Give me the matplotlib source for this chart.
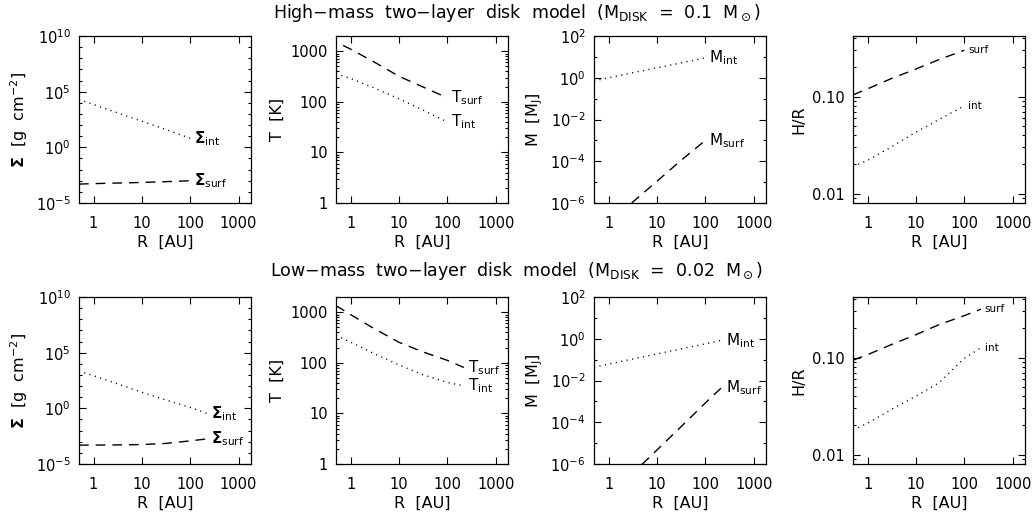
import numpy as np
import matplotlib
matplotlib.use("Agg")
import matplotlib.pyplot as plt
from matplotlib.ticker import LogLocator, FixedLocator, FixedFormatter, NullFormatter

plt.rcParams['font.family'] = ['DejaVu Sans']
plt.rcParams['mathtext.fontset'] = 'dejavusans'
plt.rcParams['font.size'] = 10

# ---- high-mass model (M_disk = 0.1 Msun) ----
R_hi = [0.5, 1, 3, 10, 30, 100]
sig_int_hi = [2.0e4, 7.0e3, 1.35e3, 220, 43, 6.5]
sig_surf_hi = [5.0e-4, 5.5e-4, 6.2e-4, 7.0e-4, 8.2e-4, 1.0e-3]
R_T_hi = [0.7, 1, 3, 10, 30, 100]
T_surf_hi = [1300, 1100, 620, 320, 200, 120]
T_int_hi = [360, 290, 190, 115, 70, 40]
M_int_hi = [0.7, 1.0, 1.7, 3.0, 5.0, 9.0]
M_surf_hi = [2.7e-8, 1.1e-7, 1.0e-6, 1.1e-5, 1.0e-4, 1.0e-3]
HR_surf_hi = [0.104, 0.12, 0.152, 0.192, 0.24, 0.30]
HR_int_hi = [0.019, 0.022, 0.030, 0.043, 0.058, 0.080]

# ---- low-mass model (M_disk = 0.02 Msun) ----
R_lo = [0.5, 1, 3, 10, 30, 100, 220]
sig_int_lo = [2300, 850, 170, 28, 6, 1.2, 0.35]
sig_surf_lo = [5.0e-4, 5.0e-4, 5.2e-4, 5.6e-4, 7.0e-4, 1.2e-3, 1.8e-3]
T_surf_lo = [1350, 900, 480, 255, 167, 112, 81]
T_int_lo = [350, 257, 154, 91, 59, 41, 35]
M_int_lo = [0.043, 0.061, 0.105, 0.187, 0.32, 0.57, 0.85]
M_surf_lo = [5.8e-9, 2.7e-8, 3.2e-7, 4.7e-6, 5.5e-5, 8.4e-4, 4.7e-3]
HR_surf_lo = [0.094, 0.107, 0.135, 0.172, 0.218, 0.27, 0.315]
HR_int_lo = [0.018, 0.021, 0.029, 0.040, 0.055, 0.098, 0.126]

titles = [r'High$-$mass  two$-$layer  disk  model  (M$_{\rm DISK}$  =  0.1  M$_\odot$)',
          r'Low$-$mass  two$-$layer  disk  model  (M$_{\rm DISK}$  =  0.02  M$_\odot$)']

xlim = (0.5, 1800)
dash = (0, (7, 5))
dot = (0, (0.8, 3.2))

fig = plt.figure(figsize=(10.34, 5.18), dpi=100)
col_x = [0.0764, 0.3250, 0.5745, 0.8250]
row_y = [0.6081, 0.1042]
w, h = 0.1663, 0.3224


def style_axis(ax):
    ax.set_xscale('log')
    ax.set_xlim(*xlim)
    ax.xaxis.set_major_locator(FixedLocator([1, 10, 100, 1000]))
    ax.xaxis.set_major_formatter(FixedFormatter(['1', '10', '100', '1000']))
    ax.xaxis.set_minor_locator(LogLocator(base=10, subs=np.arange(2, 10)))
    ax.xaxis.set_minor_formatter(NullFormatter())
    ax.tick_params(which='both', direction='in', top=True, right=True, width=0.8)
    ax.tick_params(which='major', length=5, labelsize=10.5, pad=6)
    ax.tick_params(axis='x', which='major', pad=9)
    ax.tick_params(which='minor', length=2.5)
    for s in ax.spines.values():
        s.set_linewidth(0.9)
    ax.set_xlabel('R  [AU]', fontsize=11.5, labelpad=3)


def label(ax, x, y, txt, size=11):
    ax.text(x[-1] * 1.2, y[-1], txt, fontsize=size, va='center', ha='left')


models = [
    (R_hi, R_T_hi, sig_int_hi, sig_surf_hi, T_surf_hi, T_int_hi, M_int_hi, M_surf_hi, HR_surf_hi, HR_int_hi),
    (R_lo, R_lo, sig_int_lo, sig_surf_lo, T_surf_lo, T_int_lo, M_int_lo, M_surf_lo, HR_surf_lo, HR_int_lo),
]

for row, m in enumerate(models):
    R, RT, si, ss, ts, ti, mi, ms, hs, hi = m
    axs = [fig.add_axes([cx, row_y[row], w, h]) for cx in col_x]

    # surface density
    ax = axs[0]
    style_axis(ax)
    ax.set_yscale('log')
    ax.plot(R, si, color='k', lw=1, linestyle=dot)
    ax.plot(R, ss, color='k', lw=1, linestyle=dash)
    ax.set_ylim(1e-5, 1e10)
    ax.yaxis.set_major_locator(FixedLocator([1e-5, 1, 1e5, 1e10]))
    ax.yaxis.set_major_formatter(FixedFormatter([r'10$^{-5}$', r'10$^{0}$', r'10$^{5}$', r'10$^{10}$']))
    ax.yaxis.set_minor_locator(LogLocator(base=10, subs=[1.0], numticks=30))
    ax.yaxis.set_minor_formatter(NullFormatter())
    ax.set_ylabel(r'$\mathbf{\Sigma}$  [g  cm$^{-2}$]', fontsize=11.5)
    label(ax, R, si, r'$\mathbf{\Sigma}_{\rm int}$')
    label(ax, R, ss, r'$\mathbf{\Sigma}_{\rm surf}$')

    # temperature
    ax = axs[1]
    style_axis(ax)
    ax.set_yscale('log')
    ax.plot(RT, ts, color='k', lw=1, linestyle=dash)
    ax.plot(R, ti, color='k', lw=1, linestyle=dot)
    ax.set_ylim(1, 2000)
    ax.yaxis.set_major_locator(FixedLocator([1, 10, 100, 1000]))
    ax.yaxis.set_major_formatter(FixedFormatter(['1', '10', '100', '1000']))
    ax.yaxis.set_minor_locator(LogLocator(base=10, subs=np.arange(2, 10)))
    ax.yaxis.set_minor_formatter(NullFormatter())
    ax.set_ylabel('T  [K]', fontsize=11.5)
    label(ax, RT, ts, r'T$_{\rm surf}$')
    label(ax, R, ti, r'T$_{\rm int}$')

    # mass
    ax = axs[2]
    style_axis(ax)
    ax.set_yscale('log')
    ax.plot(R, mi, color='k', lw=1, linestyle=dot)
    ax.plot(R, ms, color='k', lw=1, linestyle=dash)
    ax.set_ylim(1e-6, 1e2)
    ax.yaxis.set_major_locator(FixedLocator([1e-6, 1e-4, 1e-2, 1, 1e2]))
    ax.yaxis.set_major_formatter(FixedFormatter([r'10$^{-6}$', r'10$^{-4}$', r'10$^{-2}$', r'10$^{0}$', r'10$^{2}$']))
    ax.yaxis.set_minor_locator(LogLocator(base=10, subs=[1.0], numticks=30))
    ax.yaxis.set_minor_formatter(NullFormatter())
    ax.set_ylabel(r'M  [M$_{\rm J}$]', fontsize=11.5)
    label(ax, R, mi, r'M$_{\rm int}$')
    label(ax, R, ms, r'M$_{\rm surf}$')

    # aspect ratio
    ax = axs[3]
    style_axis(ax)
    ax.set_yscale('log')
    ax.plot(R, hs, color='k', lw=1, linestyle=dash)
    ax.plot(R, hi, color='k', lw=1, linestyle=dot)
    ax.set_ylim(0.008, 0.42)
    ax.yaxis.set_major_locator(FixedLocator([0.01, 0.1]))
    ax.yaxis.set_major_formatter(FixedFormatter(['0.01', '0.10']))
    ax.yaxis.set_minor_locator(LogLocator(base=10, subs=np.arange(2, 10)))
    ax.yaxis.set_minor_formatter(NullFormatter())
    ax.set_ylabel('H/R', fontsize=11.5)
    label(ax, R, hs, 'surf', size=7.5)
    label(ax, R, hi, 'int', size=7.5)

fig.text(0.5, 0.975, titles[0], ha='center', va='center', fontsize=12.5)
fig.text(0.5, 0.477, titles[1], ha='center', va='center', fontsize=12.5)

fig.savefig('out.png', dpi=100)
